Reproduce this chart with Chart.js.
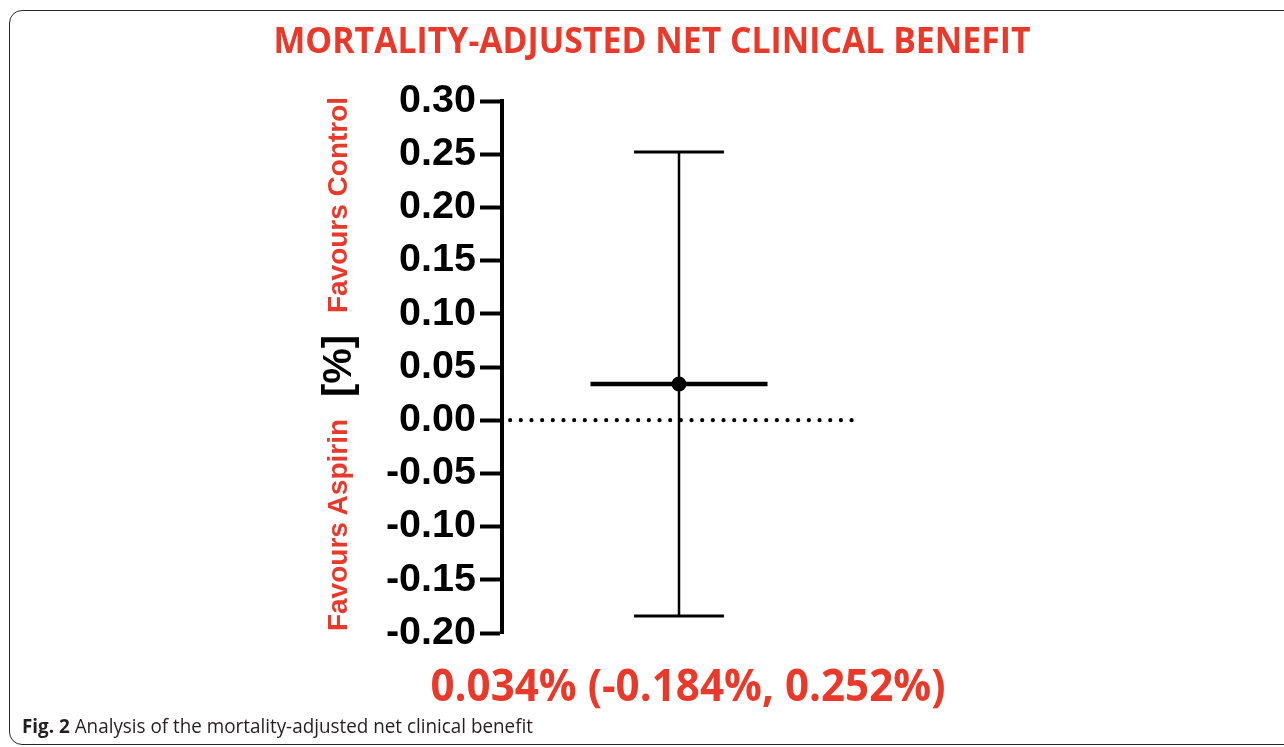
<!DOCTYPE html>
<html>
<head>
<meta charset="utf-8">
<title>Mortality-adjusted net clinical benefit</title>
<script src="https://cdn.jsdelivr.net/npm/chart.js@4.4.1/dist/chart.umd.min.js"></script>
<style>
  html, body { margin: 0; padding: 0; background: #fff; }
  body { width: 1284px; height: 747px; position: relative; overflow: hidden; }
  #frame {
    position: absolute; left: 9px; top: 10px; width: 1320px; height: 735px;
    box-sizing: border-box; border: 1.5px solid #262626; border-radius: 13px;
  }
  #plot { position: absolute; left: 0; top: 0; }
  .txt { position: absolute; white-space: nowrap; line-height: 1; z-index: 2; }
  #title {
    font-family: "Open Sans", sans-serif; font-weight: 700; font-size: 35px;
    color: #e8392b; left: 651.5px; top: 22px;
  }
  #stat {
    font-family: "Open Sans", sans-serif; font-weight: 700; font-size: 45px;
    color: #e8392b; left: 687.5px; top: 661px;
  }
  #caption {
    font-family: "Open Sans", sans-serif; font-weight: 400; font-size: 19.5px;
    color: #231f20; left: 22px; top: 716px; transform-origin: 0 50%;
  }
  #caption b { font-weight: 700; }
  .vert {
    font-family: "Liberation Sans", Arial, sans-serif; font-weight: 700;
    transform: translate(-50%, -50%) rotate(-90deg);
  }
  .red { color: #e8392b; font-size: 28px; }
  .unit { color: #000; font-size: 40px; }
</style>
</head>
<body>
<div id="frame"></div>
<canvas id="plot" width="1284" height="747"></canvas>

<div id="title" class="txt">MORTALITY-ADJUSTED NET CLINICAL BENEFIT</div>
<div class="txt vert red" style="left:338px; top:205px;">Favours Control</div>
<div class="txt vert unit" style="left:337px; top:366px;">[%]</div>
<div class="txt vert red" style="left:338px; top:525px;">Favours Aspirin</div>
<div id="stat" class="txt"></div>
<div id="caption" class="txt"><b>Fig. 2</b> Analysis of the mortality-adjusted net clinical benefit</div>

<script>
// Net clinical benefit estimate with its 95% confidence interval (in %)
const categories = ['Mortality-adjusted NCB'];
const estimates  = [0.034];
const lowerCI    = [-0.184];
const upperCI    = [0.252];
const referenceLine = [0];
const yTicks = [-0.20, -0.15, -0.10, -0.05, 0.00, 0.05, 0.10, 0.15, 0.20, 0.25, 0.30];

// Half-widths (in x-axis units) of the whisker caps and the estimate bar
const CAP_HALF = 0.127;
const BAR_HALF = 0.25;

// Horizontal segment at height y around category i
const seg = (i, half, y) => [{ x: i - half, y }, { x: i + half, y }];
const joinSegments = parts => parts.flatMap((p, k) => k ? [{ x: NaN, y: NaN }, ...p] : p);

const fmt3 = v => v.toFixed(3);
document.getElementById('stat').textContent =
  `${fmt3(estimates[0])}% (${fmt3(lowerCI[0])}%, ${fmt3(upperCI[0])}%)`;

const lineBase = { showLine: true, pointRadius: 0, borderColor: '#000', spanGaps: false, clip: false };

new Chart(document.getElementById('plot'), {
  type: 'scatter',
  data: {
    datasets: [
      { // point estimate
        data: categories.map((c, i) => ({ x: i, y: estimates[i] })),
        pointRadius: 7.5, pointBackgroundColor: '#000', pointBorderWidth: 0,
        showLine: false, clip: false
      },
      { // estimate bar
        ...lineBase, borderWidth: 4.5,
        data: joinSegments(categories.map((c, i) => seg(i, BAR_HALF, estimates[i])))
      },
      { // upper caps
        ...lineBase, borderWidth: 3,
        data: joinSegments(categories.map((c, i) => seg(i, CAP_HALF, upperCI[i])))
      },
      { // lower caps
        ...lineBase, borderWidth: 3,
        data: joinSegments(categories.map((c, i) => seg(i, CAP_HALF, lowerCI[i])))
      },
      { // whiskers
        ...lineBase, borderWidth: 2.5,
        data: joinSegments(categories.map((c, i) => [{ x: i, y: lowerCI[i] }, { x: i, y: upperCI[i] }]))
      },
      { // dotted no-effect line
        ...lineBase, borderWidth: 4.2, borderDash: [0, 10.67], borderCapStyle: 'round',
        data: [{ x: -0.477, y: referenceLine[0] }, { x: 0.495, y: referenceLine[0] }]
      }
    ]
  },
  options: {
    responsive: false,
    animation: false,
    devicePixelRatio: 1,
    events: [],
    layout: { padding: { left: 352, right: 428, top: 101, bottom: 114 } },
    plugins: { legend: { display: false }, tooltip: { enabled: false } },
    scales: {
      x: { type: 'linear', display: false, min: -0.5, max: categories.length - 0.5 },
      y: {
        type: 'linear', min: yTicks[0], max: yTicks[yTicks.length - 1],
        afterBuildTicks: s => { s.ticks = yTicks.map(v => ({ value: v })); },
        afterFit: s => { s.width = 150; },
        ticks: {
          autoSkip: false, padding: 4, color: '#000',
          font: { family: '"Liberation Sans", Arial, sans-serif', size: 39.5, weight: 'bold' },
          callback: v => Number(v).toFixed(2)
        },
        grid: { drawOnChartArea: false, drawTicks: true, tickLength: 22, tickWidth: 4, tickColor: '#000' },
        border: { display: true, width: 4, color: '#000' }
      }
    }
  }
});

// Condense the headline texts to their set widths
function fitWidth(el, target, centred) {
  const w = el.getBoundingClientRect().width;
  const k = target / w;
  el.style.transform = centred ? `translateX(-50%) scaleX(${k})` : `scaleX(${k})`;
}
document.fonts.ready.then(() => {
  fitWidth(document.getElementById('title'), 757, true);
  fitWidth(document.getElementById('stat'), 515, true);
  fitWidth(document.getElementById('caption'), 511, false);
});
</script>
</body>
</html>
